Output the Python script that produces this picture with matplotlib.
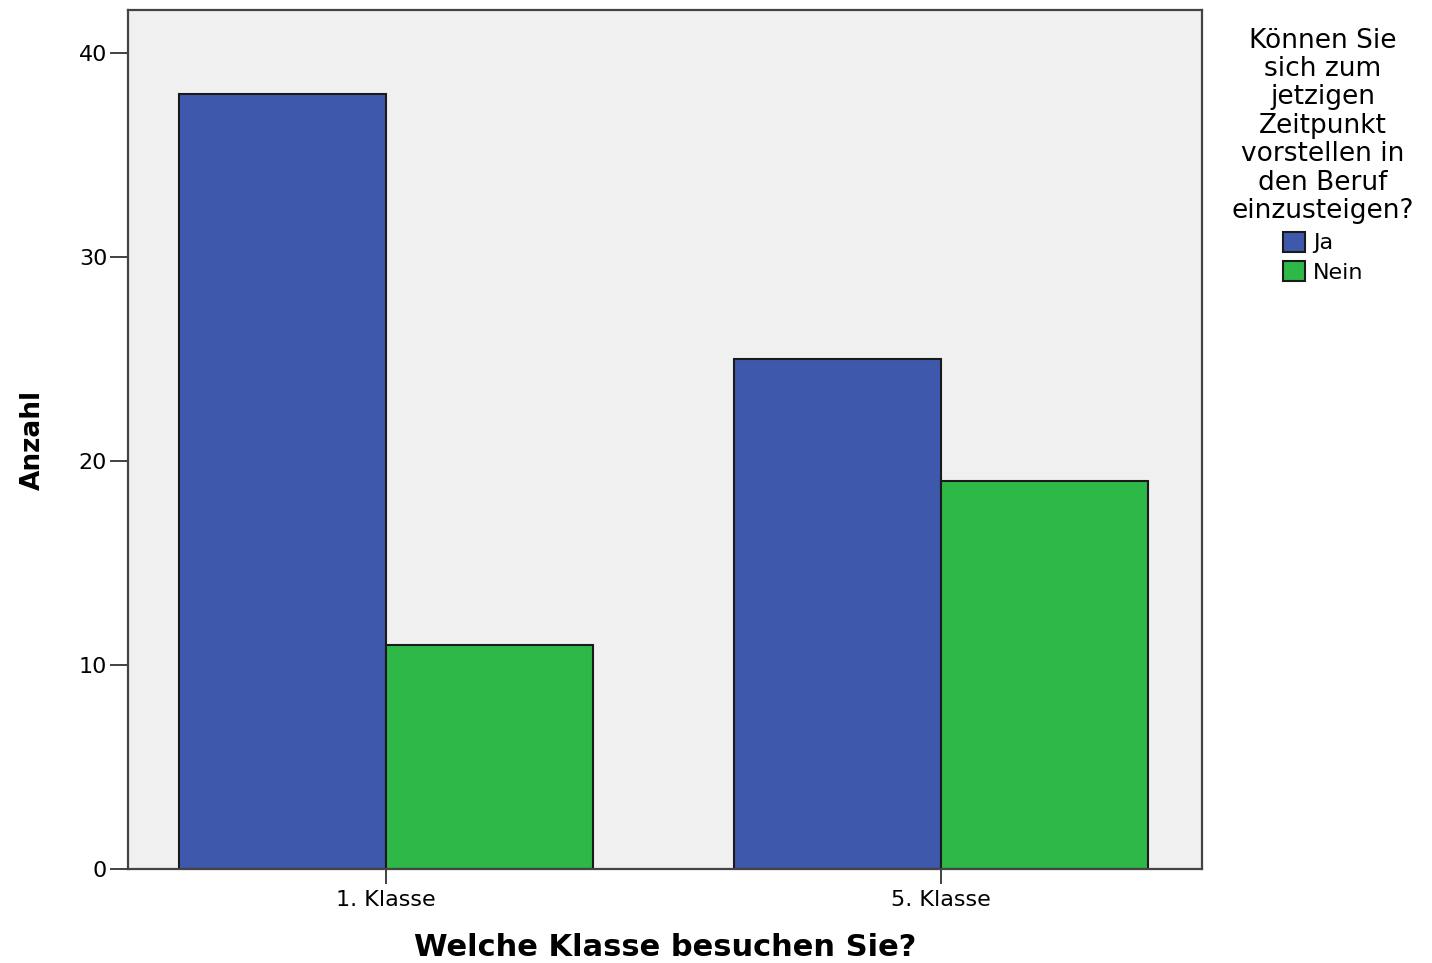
import numpy as np
import matplotlib.pyplot as plt

plt.rcParams['font.family'] = ['DejaVu Sans']

# data
klassen = ['1. Klasse', '5. Klasse']
ja_counts = [38, 25]
nein_counts = [11, 19]
series_labels = ['Ja', 'Nein']
legend_title = 'Können Sie\nsich zum\njetzigen\nZeitpunkt\nvorstellen in\nden Beruf\neinzusteigen?'
y_ticks = [0, 10, 20, 30, 40]

blue = '#3E58AC'
green = '#2EB848'
bg = '#F0F0F0'
edge = '#1a1a1a'

fig = plt.figure(figsize=(14.32, 9.63), dpi=100)
ax = fig.add_axes([128 / 1432, 1 - 869 / 963, (1202 - 128) / 1432, (869 - 10) / 963])
ax.set_facecolor(bg)

x = np.arange(len(klassen))
bar_width = 0.373

# Bars for both groups
ax.bar(x - bar_width / 2, ja_counts, width=bar_width, color=blue, edgecolor=edge,
       linewidth=1.5, label=series_labels[0], zorder=2)
ax.bar(x + bar_width / 2, nein_counts, width=bar_width, color=green, edgecolor=edge,
       linewidth=1.5, label=series_labels[1], zorder=2)

ax.set_xlim(-0.465, 1.47)
ax.set_ylim(0, 42.1)
ax.set_xticks(x)
ax.set_xticklabels(klassen, fontsize=16)
ax.set_yticks(y_ticks)
ax.set_yticklabels([str(t) for t in y_ticks], fontsize=16)
ax.tick_params(axis='y', length=13, width=1.3, color='#333333', pad=2)
ax.tick_params(axis='x', length=11, width=1.3, color='#333333', pad=4)

for s in ax.spines.values():
    s.set_color('#444444')
    s.set_linewidth(1.6)

ax.set_xlabel('Welche Klasse besuchen Sie?', fontsize=22, fontweight='bold', labelpad=17)
ax.set_ylabel('Anzahl', fontsize=19, fontweight='bold', labelpad=24)

# Legend on the right side of the figure
leg = fig.legend(loc='upper center', bbox_to_anchor=(1323 / 1432, 1 - 12 / 963),
                 title=legend_title, frameon=False, fontsize=16,
                 handlelength=1.0, handleheight=1.0, handletextpad=0.35,
                 labelspacing=0.35, borderpad=0.2)
leg.get_title().set_fontsize(19)
leg.get_title().set_linespacing(1.12)
leg.get_title().set_multialignment('center')
for h in leg.legend_handles:
    h.set_edgecolor(edge)
    h.set_linewidth(1.5)

fig.savefig('out.png', dpi=100)
